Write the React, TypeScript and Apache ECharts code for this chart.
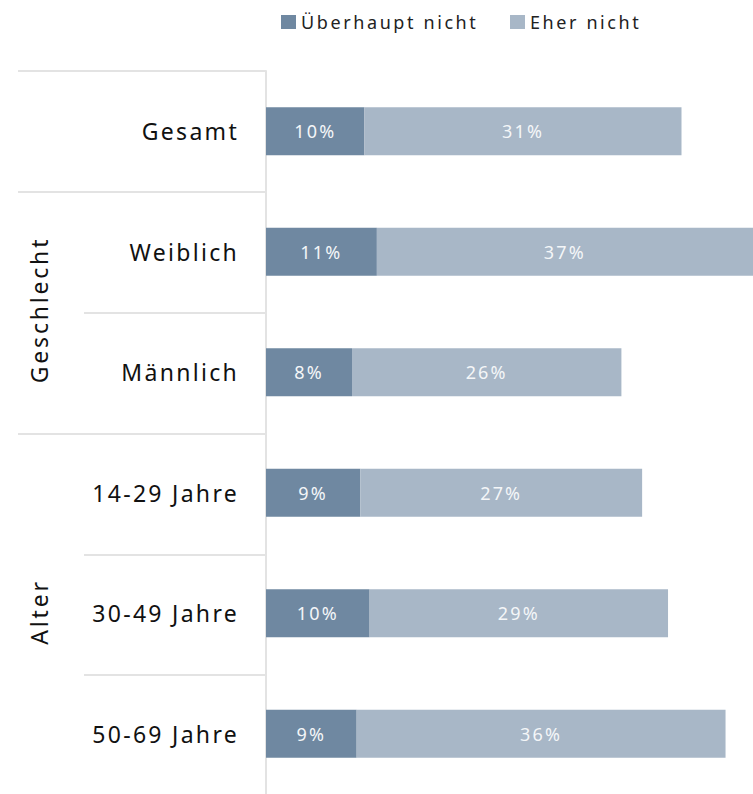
import React, { useEffect, useRef } from "react";
import * as echarts from "echarts";

const categories = ["Gesamt", "Weiblich", "Männlich", "14-29 Jahre", "30-49 Jahre", "50-69 Jahre"];
const seriesNames = ["Überhaupt nicht", "Eher nicht"];
const ueberhauptNicht = [9.5, 10.7, 8.3, 9.1, 10.0, 8.75];
const eherNicht = [30.6, 36.5, 26.0, 27.2, 28.8, 35.6];
const groups = [
  { name: "Geschlecht", y: 310 },
  { name: "Alter", y: 612 },
];

const FONT = "Noto Sans";

export default function App() {
  const ref = useRef<HTMLDivElement>(null);
  useEffect(() => {
    document.body.style.margin = "0";
    const chart = echarts.init(ref.current!, null, { renderer: "svg" });
    const lineStyle = { stroke: "#e3e3e3", lineWidth: 2 };
    const hLines = [
      { x1: 18, y: 71 },
      { x1: 18, y: 192 },
      { x1: 84, y: 313 },
      { x1: 18, y: 434 },
      { x1: 84, y: 555 },
      { x1: 84, y: 675 },
    ];
    const legendText = { fontFamily: FONT, fontSize: 18, color: "#222" };
    const barLabel = {
      show: true,
      position: "inside",
      color: "#f4f6f8",
      fontFamily: FONT,
      fontSize: 18,
      formatter: (p: any) => Math.round(p.value) + "%",
    };
    const legendBase = {
      top: 13,
      padding: 0,
      itemWidth: 15,
      itemHeight: 14,
      icon: "rect",
      textStyle: legendText,
    };
    chart.setOption({
      animation: false,
      legend: [
        { ...legendBase, left: 281, data: [seriesNames[0]] },
        { ...legendBase, left: 510, data: [seriesNames[1]] },
      ],
      grid: { left: 266, top: 71, width: 487, height: 724, containLabel: false },
      xAxis: {
        type: "value",
        min: 0,
        max: 47,
        show: false,
      },
      yAxis: {
        type: "category",
        data: categories,
        inverse: true,
        axisLine: { show: true, lineStyle: { color: "#e3e3e3", width: 2 } },
        axisTick: { show: false },
        axisLabel: { fontFamily: FONT, fontSize: 23, color: "#111", margin: 27 },
      },
      graphic: [
        ...hLines.map((l) => ({
          type: "line",
          shape: { x1: l.x1, y1: l.y, x2: 266, y2: l.y },
          style: lineStyle,
          silent: true,
        })),
        ...groups.map((g) => ({
          type: "text",
          x: 39,
          y: g.y,
          rotation: Math.PI / 2,
          style: {
            text: g.name,
            fontFamily: FONT,
            fontSize: 23,
            fill: "#111",
            align: "center",
            verticalAlign: "middle",
          },
        })),
      ],
      series: [
        {
          name: seriesNames[0],
          type: "bar",
          stack: "s",
          barWidth: 48,
          data: ueberhauptNicht,
          itemStyle: { color: "#6f88a1" },
          label: barLabel,
        },
        {
          name: seriesNames[1],
          type: "bar",
          stack: "s",
          barWidth: 48,
          data: eherNicht,
          itemStyle: { color: "#a8b7c7" },
          label: barLabel,
        },
      ],
    });
    // widen letter spacing to mimic the reference typography
    const texts = ref.current!.querySelectorAll("text");
    texts.forEach((t) => {
      const s = t.textContent || "";
      let sp = 0;
      if (categories.includes(s)) sp = 2.3;
      else if (seriesNames.includes(s)) sp = 2.6;
      else if (s.endsWith("%")) sp = 2.2;
      else if (groups.some((g) => g.name === s)) sp = 2.8;
      if (sp) t.setAttribute("letter-spacing", sp + "px");
    });
    return () => chart.dispose();
  }, []);
  return <div ref={ref} style={{ width: 753, height: 794 }} />;
}
